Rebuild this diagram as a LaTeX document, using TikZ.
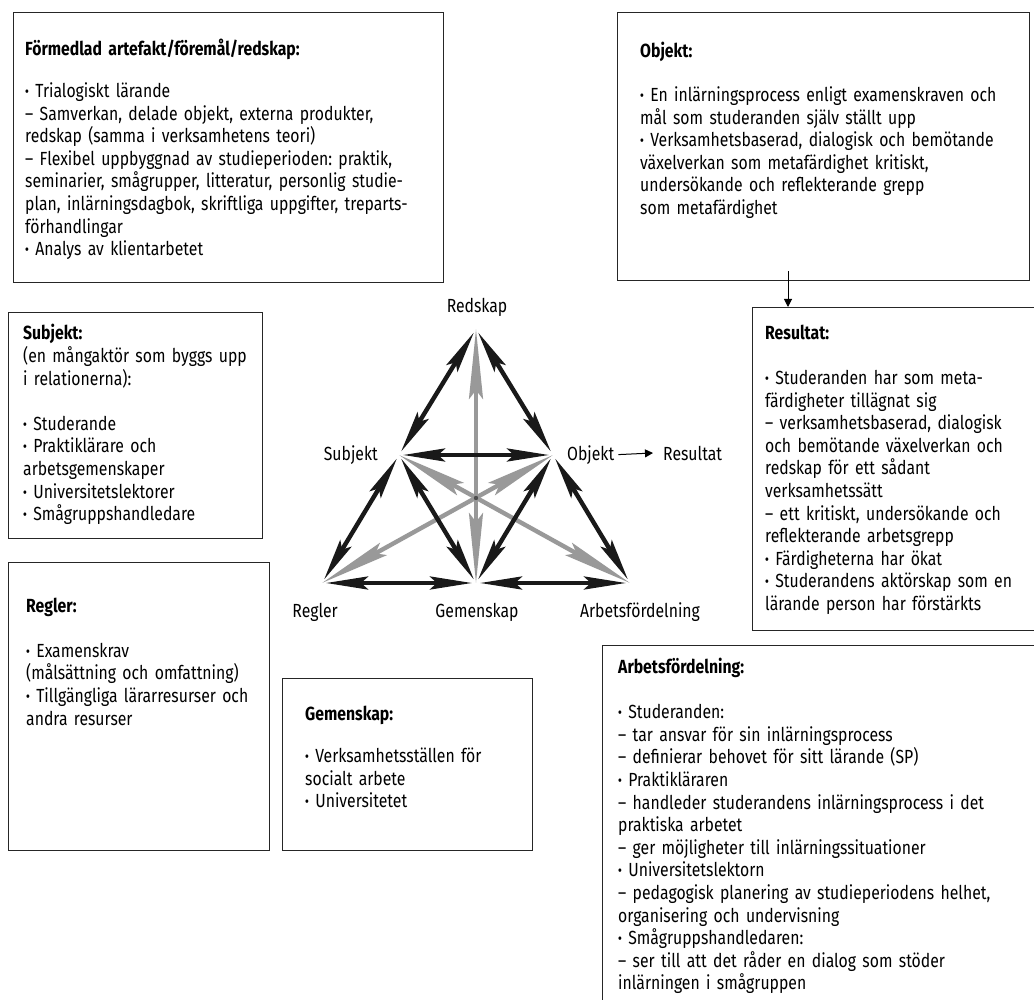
\documentclass[tikz,border=0pt]{standalone}
\usepackage{fontspec}
\setmainfont{Fira Sans}[FakeStretch=0.83]
\usetikzlibrary{arrows.meta}
\newcommand{\mybul}{{\bfseries ·}}
\tikzset{
  boxnode/.style={draw=black!85, line width=1.4pt, anchor=north west, inner sep=0pt},
  txt/.style={anchor=base west, inner sep=0pt, align=left, text width=420pt, font=\fontsize{19}{22.6}\selectfont\frenchspacing},
  lbl/.style={inner sep=0pt, font=\fontsize{19}{22.6}\selectfont},
  blkarrow/.style={line width=4.4pt, draw=black!90, {Stealth[length=42pt,width=13pt,inset=7pt]}-{Stealth[length=42pt,width=13pt,inset=7pt]}, shorten <=4pt, shorten >=4pt},
  gryarrow/.style={line width=4.4pt, draw=black!40, {Stealth[length=70pt,width=14pt,inset=9pt]}-{Stealth[length=70pt,width=14pt,inset=9pt]}},
  thinarrow/.style={line width=1pt, draw=black, -{Triangle[length=8pt,width=8pt]}}
}
\begin{document}
\begin{tikzpicture}[x=1pt,y=-1pt]
\useasboundingbox (0,0) rectangle (1034,1000);
\fill[white] (0,0) rectangle (1034,1000);

% boxes
\node[boxnode, minimum width=430, minimum height=270] (bArt) at (13,12) {};
\node[boxnode, minimum width=412, minimum height=268] (bObj) at (617,12) {};
\node[boxnode, minimum width=292, minimum height=323] (bRes) at (752,307) {};
\node[boxnode, minimum width=442, minimum height=370] (bArb) at (602,645) {};
\node[boxnode, minimum width=254, minimum height=226] (bSub) at (8,312) {};
\node[boxnode, minimum width=261, minimum height=288] (bReg) at (8,562) {};
\node[boxnode, minimum width=250, minimum height=172] (bGem) at (282,678) {};

% box texts
\node[txt] (tArt) at (25,56) {\textbf{Förmedlad artefakt/föremål/redskap:}\\[19pt]
\mybul{} Trialogiskt lärande\\
– Samverkan, delade objekt, externa produkter,\\
redskap (samma i verksamhetens teori)\\
– Flexibel uppbyggnad av studieperioden: praktik,\\
seminarier, smågrupper, litteratur, personlig studie-\\
plan, inlärningsdagbok, skriftliga uppgifter, treparts-\\
förhandlingar\\
\mybul{} Analys av klientarbetet};

\node[txt] (tObj) at (640,58) {\textbf{Objekt:}\\[21pt]
\mybul{} En inlärningsprocess enligt examenskraven och\\
mål som studeranden själv ställt upp\\
\mybul{} Verksamhetsbaserad, dialogisk och bemötande\\
växelverkan som metafärdighet kritiskt,\\
undersökande och reflekterande grepp\\
som metafärdighet};

\node[txt] (tRes) at (765,340) {\textbf{Resultat:}\\[22pt]
\mybul{} Studeranden har som meta-\\
färdigheter tillägnat sig\\
– verksamhetsbaserad, dialogisk\\
och bemötande växelverkan och\\
redskap för ett sådant\\
verksamhetssätt\\
– ett kritiskt, undersökande och\\
reflekterande arbetsgrepp\\
\mybul{} Färdigheterna har ökat\\
\mybul{} Studerandens aktörskap som en\\
lärande person har förstärkts};

\node[txt] (tArb) at (618,673) {\textbf{Arbetsfördelning:}\\[23pt]
\mybul{} Studeranden:\\
– tar ansvar för sin inlärningsprocess\\
– definierar behovet för sitt lärande (SP)\\
\mybul{} Praktikläraren\\
– handleder studerandens inlärningsprocess i det\\
praktiska arbetet\\
– ger möjligheter till inlärningssituationer\\
\mybul{} Universitetslektorn\\
– pedagogisk planering av studieperiodens helhet,\\
organisering och undervisning\\
\mybul{} Smågruppshandledaren:\\
– ser till att det råder en dialog som stöder\\
inlärningen i smågruppen};

\node[txt] (tSub) at (23,340) {\textbf{Subjekt:}\\
(en mångaktör som byggs upp\\
i relationerna):\\[22.6pt]
\mybul{} Studerande\\
\mybul{} Praktiklärare och\\
arbetsgemenskaper\\
\mybul{} Universitetslektorer\\
\mybul{} Smågruppshandledare};

\node[txt] (tReg) at (26,612) {\textbf{Regler:}\\[22.6pt]
\mybul{} Examenskrav\\
(målsättning och omfattning)\\
\mybul{} Tillgängliga lärarresurser och\\
andra resurser};

\node[txt] (tGem) at (305,720) {\textbf{Gemenskap:}\\[20pt]
\mybul{} Verksamhetsställen för\\
socialt arbete\\
\mybul{} Universitetet};

% arrow between boxes
\draw[thinarrow] ([yshift=10pt]bObj.south -| 788,0) -- (bRes.north -| 788,0);

% triangle vertices
\coordinate (vR) at (476,329);
\coordinate (vS) at (399,455);
\coordinate (vO) at (553,455);
\coordinate (vL) at (322,583);
\coordinate (vG) at (476,583);
\coordinate (vA) at (630,583);
\coordinate (vC) at (476,498);

% gray arrows
\draw[gryarrow] (vR) -- (vG);
\draw[gryarrow] (vS) -- (vA);
\draw[gryarrow] (vO) -- (vL);
\fill[black!70] (vC) circle (2.2pt);

% black arrows
\draw[blkarrow] (vS) -- (vR);
\draw[blkarrow] (vR) -- (vO);
\draw[blkarrow] (vS) -- (vO);
\draw[blkarrow] (vS) -- (vL);
\draw[blkarrow] (vS) -- (vG);
\draw[blkarrow] (vO) -- (vG);
\draw[blkarrow] (vO) -- (vA);
\draw[blkarrow] (vL) -- (vG);
\draw[blkarrow] (vG) -- (vA);

% labels
\node[lbl, anchor=base] (lR) at (477,313) {Redskap};
\node[lbl, anchor=base east] (lS) at (378,460) {Subjekt};
\node[lbl, anchor=base west] (lO) at (567,460) {Objekt};
\node[lbl, anchor=base west] (lRes) at (663,460) {Resultat};
\node[lbl, anchor=base east] (lL) at (338,617) {Regler};
\node[lbl, anchor=base] (lG) at (477,617) {Gemenskap};
\node[lbl, anchor=base] (lA) at (640,617) {Arbetsfördelning};
\draw[thinarrow] ([xshift=4pt]lO.east) -- ([xshift=-10pt]lRes.west);
\end{tikzpicture}
\end{document}
